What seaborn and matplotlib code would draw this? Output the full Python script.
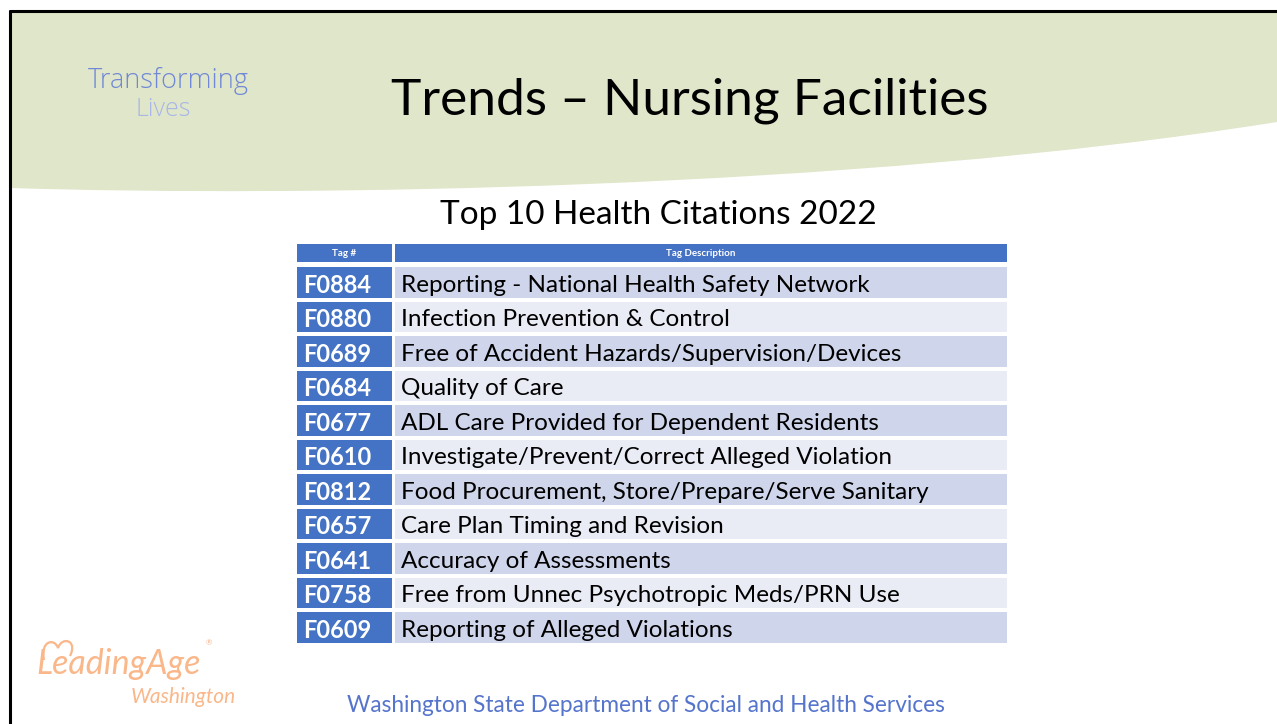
#!/usr/bin/env python3
"""Slide: Top 10 health citations for nursing facilities, drawn as seaborn heatmap table."""

import matplotlib.pyplot as plt
import numpy as np
import pandas as pd
import seaborn as sns
from matplotlib.colors import ListedColormap
from matplotlib.patches import PathPatch
from matplotlib.path import Path

W, H = 1277, 724

TITLE = "Trends \u2013 Nursing Facilities"
SUBTITLE = "Top 10 Health Citations 2022"
FOOTER = "Washington State Department of Social and Health Services"
HEADERS = ["Tag #", "Tag Description"]

TAGS = ["F0884", "F0880", "F0689", "F0684", "F0677", "F0610",
        "F0812", "F0657", "F0641", "F0758", "F0609"]
DESCRIPTIONS = [
    "Reporting - National Health Safety Network",
    "Infection Prevention & Control",
    "Free of Accident Hazards/Supervision/Devices",
    "Quality of Care",
    "ADL Care Provided for Dependent Residents",
    "Investigate/Prevent/Correct Alleged Violation",
    "Food Procurement, Store/Prepare/Serve Sanitary",
    "Care Plan Timing and Revision",
    "Accuracy of Assessments",
    "Free from Unnec Psychotropic Meds/PRN Use",
    "Reporting of Alleged Violations",
]

BLUE = "#4472C4"
ROW_DARK = "#CFD5EA"
ROW_LIGHT = "#E9EBF5"
BAND = "#DFE6C9"
ORANGE = "#F9B78A"


def px_rect(x, y, w, h):
    return [x / W, 1 - (y + h) / H, w / W, h / H]


def draw_background(fig):
    ax = fig.add_axes([0, 0, 1, 1])
    ax.set_xlim(0, W)
    ax.set_ylim(H, 0)
    ax.axis("off")

    band = Path(
        [(10, 11), (W, 11), (W, 122), (850, 190), (300, 197), (10, 188), (10, 11)],
        [Path.MOVETO, Path.LINETO, Path.LINETO, Path.CURVE4, Path.CURVE4, Path.CURVE4,
         Path.CLOSEPOLY],
    )
    ax.add_patch(PathPatch(band, facecolor=BAND, edgecolor="none"))
    ax.plot([10, 10], [10, H], color="black", lw=2.2, solid_capstyle="butt")
    ax.plot([9, W], [11, 11], color="black", lw=2.2, solid_capstyle="butt")

    ax.text(690, 101, TITLE, fontsize=37, ha="center", va="center", color="black")
    ax.text(658, 215, SUBTITLE, fontsize=24, ha="center", va="center", color="black")
    ax.text(168, 81, "Transforming", fontsize=19.5, ha="center", va="center",
            color="#7088D6", family=["Open Sans", "DejaVu Sans"], fontweight="light")
    ax.text(163, 110, "Lives", fontsize=18, ha="center", va="center",
            color="#A9B6E6", family=["Open Sans", "DejaVu Sans"], fontweight="light")
    ax.text(646, 705, FOOTER, fontsize=16.3, ha="center", va="center",
            color="#5574CC")

    # LeadingAge Washington logo
    ax.text(36, 664, "LeadingAge", fontsize=24.5, ha="left", va="center",
            color=ORANGE, style="italic")
    ax.text(236, 697, "Washington", fontsize=15, ha="right", va="center",
            color=ORANGE, style="italic")
    ax.text(206, 643, "\u00ae", fontsize=5.5, ha="left", va="center", color=ORANGE)
    heart = Path(
        [(44, 660), (40, 640), (55, 638), (58, 648), (62, 636), (78, 640), (70, 656)],
        [Path.MOVETO, Path.CURVE4, Path.CURVE4, Path.CURVE4, Path.CURVE4, Path.CURVE4,
         Path.CURVE4],
    )
    ax.add_patch(PathPatch(heart, facecolor="none", edgecolor=ORANGE, lw=1.6))
    return ax


def draw_column(fig, rect, frame, cmap, fontsize, weight, color, pad):
    ax = fig.add_axes(rect)
    sns.heatmap(frame[["shade"]], cmap=cmap, vmin=0, vmax=1, cbar=False,
                linewidths=1.6, linecolor="white", ax=ax)
    ax.set_xticks([])
    ax.set_yticks([])
    ax.set_xlabel("")
    ax.set_ylabel("")
    for i, label in enumerate(frame["label"]):
        ax.text(pad, i + 0.58, label, ha="left", va="center", fontsize=fontsize,
                fontweight=weight, color=color)
    return ax


def draw_header(fig, rect, text):
    ax = fig.add_axes(rect)
    sns.heatmap(pd.DataFrame({"h": [1]}), cmap=ListedColormap([BLUE]), cbar=False,
                linewidths=1.6, linecolor="white", ax=ax)
    ax.set_xticks([])
    ax.set_yticks([])
    ax.text(0.5, 0.5, text, ha="center", va="center", fontsize=7,
            fontweight="bold", color="white")


def main():
    sns.set_theme(style="white")
    plt.rcParams["font.family"] = ["Lato", "DejaVu Sans"]

    fig = plt.figure(figsize=(W / 100, H / 100), dpi=100)
    fig.patch.set_facecolor("white")
    draw_background(fig)

    shade = [i % 2 for i in range(len(TAGS))]
    tag_df = pd.DataFrame({"label": TAGS, "shade": shade})
    desc_df = pd.DataFrame({"label": DESCRIPTIONS, "shade": shade})

    draw_header(fig, px_rect(295, 242, 99, 22), HEADERS[0])
    draw_header(fig, px_rect(393, 242, 616, 22), HEADERS[1])

    body_top, body_h = 265, 380
    draw_column(fig, px_rect(295, body_top, 99, body_h), tag_df,
                ListedColormap([BLUE, BLUE]), 17, "bold", "white", 0.08)
    draw_column(fig, px_rect(393, body_top, 616, body_h), desc_df,
                ListedColormap([ROW_DARK, ROW_LIGHT]), 17.5, "normal", "black", 0.013)

    fig.savefig("out.png", dpi=100, facecolor="white")
    plt.close(fig)


if __name__ == "__main__":
    main()
